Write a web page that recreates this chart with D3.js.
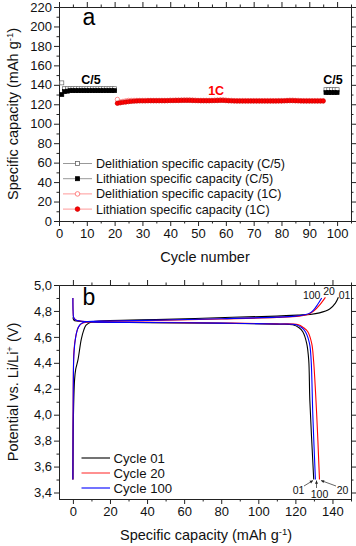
<!DOCTYPE html>
<html><head><meta charset="utf-8">
<script src="https://cdn.jsdelivr.net/npm/d3@7/dist/d3.min.js"></script>
<style>body{margin:0;background:#fff}svg{display:block;font-family:"Liberation Sans",Arial,sans-serif}</style>
</head><body><svg id="c" width="356" height="546"></svg>
<script>
// ---------- Panel a data ----------
const cyclesC5a = [1,2,3,4,5,6,7,8,9,10,11,12,13,14,15,16,17,18,19,20];
const delithC5a = [142,136,136,136,136,136,136,136,136,136,136,136,136,136,136,136,136,136,136,136];
const lithC5a   = [130,133,133.5,134,134,134,134,134,134,134,134,134,134,134,134,134,134,134,134,134];
const cycles1C = [21,22,23,24,25,26,27,28,29,30,31,32,33,34,35,36,37,38,39,40,41,42,43,44,45,46,47,48,49,50,51,52,53,54,55,56,57,58,59,60,61,62,63,64,65,66,67,68,69,70,71,72,73,74,75,76,77,78,79,80,81,82,83,84,85,86,87,88,89,90,91,92,93,94,95];
const delith1C = [125,122.5,123,123.5,124,124,124,124,124,124,124,124,124,124,124,124,124,124,124,124.2,124.2,124.3,124.3,124.3,124.5,124.5,124.5,124.3,124.2,124,124,124,124,124,124,124.2,124.3,124.5,124.5,124.3,124,124,123.8,123.8,123.8,123.8,123.8,123.8,123.8,123.8,123.8,123.8,123.8,123.8,123.8,123.8,123.8,123.8,123.8,123.8,123.8,124,124.2,124.2,124,124,123.8,123.8,123.8,123.8,123.8,123.8,123.8,123.8,123.8];
const lith1C   = [121,121.5,122,122.3,122.7,123,123.2,123.4,123.5,123.5,123.5,123.6,123.6,123.6,123.6,123.6,123.6,123.6,123.7,123.8,123.8,123.9,123.9,124,124,124,124,123.9,123.8,123.7,123.6,123.6,123.6,123.6,123.7,123.8,123.9,124,124,123.8,123.6,123.5,123.4,123.3,123.3,123.3,123.3,123.3,123.3,123.3,123.3,123.3,123.3,123.3,123.3,123.3,123.3,123.3,123.4,123.4,123.5,123.6,123.7,123.7,123.6,123.5,123.4,123.3,123.3,123.3,123.3,123.3,123.3,123.3,123.3];
const cyclesC5b = [96,97,98,99,100];
const delithC5b = [135,135,135,135,135];
const lithC5b   = [132,132,132,132,132];
const legendA = ["Delithiation specific capacity (C/5)","Lithiation specific capacity (C/5)","Delithiation specific capacity (1C)","Lithiation specific capacity (1C)"];

// ---------- Panel b data (capacity mAh/g, potential V) ----------
const chg01 = [[0,3.5],[0.3,4.0],[0.9,4.27],[1.5,4.35],[2.7,4.42],[4.5,4.58],[5.8,4.65],[7.1,4.69],[10,4.715],[20,4.725],[50,4.735],[86,4.751],[110,4.76],[122,4.768],[128,4.773],[133,4.785],[138.5,4.815],[141.6,4.86],[143.2,4.905]];
const dis01 = [[0,4.75],[0.5,4.73],[2,4.722],[10,4.715],[40,4.71],[80,4.705],[110,4.698],[118.6,4.693],[122,4.67],[124,4.64],[126.1,4.55],[127.2,4.42],[127.8,4.11],[129.9,3.5]];
const chg20 = [[0,3.5],[0.2,4.25],[0.6,4.5],[1.5,4.6],[2.8,4.67],[4.5,4.7],[8,4.715],[20,4.72],[50,4.728],[80,4.738],[110,4.75],[122,4.76],[127,4.775],[130,4.8],[133,4.845],[136.2,4.905]];
const dis20 = [[0,4.9],[0.1,4.8],[0.4,4.75],[1.5,4.73],[4,4.722],[10,4.717],[40,4.712],[80,4.707],[110,4.7],[121.3,4.695],[124.5,4.67],[126.7,4.64],[128.8,4.55],[129.8,4.42],[131.5,4.0],[133,3.5]];
const chg100 = [[0,3.5],[0.2,4.2],[0.5,4.45],[1.3,4.58],[2.3,4.65],[3.6,4.69],[5.5,4.71],[8,4.718],[20,4.722],[50,4.73],[80,4.74],[110,4.752],[120,4.76],[125,4.77],[128,4.785],[130,4.81],[132,4.85],[134.2,4.9]];
const dis100 = [[0,4.9],[0.1,4.8],[0.4,4.75],[1.5,4.73],[4,4.722],[10,4.716],[40,4.711],[80,4.706],[110,4.699],[120.4,4.694],[123.5,4.67],[125.4,4.64],[127.6,4.55],[128.5,4.42],[129.4,4.0],[130.8,3.5]];
const legendB = ["Cycle 01","Cycle 20","Cycle 100"];
const colorsB = ["#000000","#ff0000","#0000ff"];

const svg = d3.select("#c");
const FS = 13;

function frame(g, x, y, xTicks, xMinor, yTicks, yMinor, xFmt, yFmt){
  const [x0,x1]=x.range(), [y0,y1]=y.range();
  const ax = (gen, tr, ticks, size, fmt) => {
    const a = g.append("g").attr("transform",tr).call(gen.tickValues(ticks).tickSize(size).tickSizeOuter(0).tickFormat(fmt||""));
    a.select(".domain").attr("stroke","#222");
    a.selectAll(".tick line").attr("stroke","#222");
    a.selectAll("text").attr("font-size",FS).attr("fill","#111");
    return a;
  };
  ax(d3.axisBottom(x), `translate(0,${y0})`, xMinor, 2.5);
  ax(d3.axisTop(x), `translate(0,${y1})`, xMinor, 2.5);
  ax(d3.axisLeft(y), `translate(${x0},0)`, yMinor, 2.5);
  ax(d3.axisRight(y), `translate(${x1},0)`, yMinor, 2.5);
  const b = ax(d3.axisBottom(x), `translate(0,${y0})`, xTicks, 5, xFmt);
  b.selectAll("text").attr("dy","0.71em").attr("y",7.5);
  ax(d3.axisTop(x), `translate(0,${y1})`, xTicks, 5);
  const l = ax(d3.axisLeft(y), `translate(${x0},0)`, yTicks, 5, yFmt);
  l.selectAll("text").attr("x",-7);
  ax(d3.axisRight(y), `translate(${x1},0)`, yTicks, 5);
}

// ---------- Panel a ----------
const xa = d3.scaleLinear().domain([0,105]).range([59,351]);
const ya = d3.scaleLinear().domain([0,220]).range([221,7]);
const ga = svg.append("g");
frame(ga, xa, ya, d3.range(0,101,10), d3.range(5,106,10), d3.range(0,221,20), d3.range(10,221,20), d3.format("d"), d3.format("d"));

const sq = 4;
function squares(cx, vals, fill, stroke){
  ga.append("g").selectAll("rect").data(cx).join("rect")
    .attr("x",(d)=>xa(d)-sq/2).attr("y",(d,i)=>ya(vals[i])-sq/2)
    .attr("width",sq).attr("height",sq)
    .attr("fill",fill).attr("stroke",stroke).attr("stroke-width",0.7);
}
function circles(cx, vals, fill, stroke){
  ga.append("g").selectAll("circle").data(cx).join("circle")
    .attr("cx",d=>xa(d)).attr("cy",(d,i)=>ya(vals[i])).attr("r",2.2)
    .attr("fill",fill).attr("stroke",stroke).attr("stroke-width",0.7);
}
squares(cyclesC5a, delithC5a, "#fff", "#666");
squares(cyclesC5b, delithC5b, "#fff", "#666");
circles(cycles1C, delith1C, "#fff", "#f66");
squares(cyclesC5a, lithC5a, "#000", "#000");
squares(cyclesC5b, lithC5b, "#000", "#000");
circles(cycles1C, lith1C, "#f00", "#c00");

ga.append("text").attr("x",89).attr("y",25).attr("text-anchor","middle").attr("font-size",23).text("a");
ga.append("text").attr("x",xa(11.5)).attr("y",83.5).attr("text-anchor","middle").attr("font-size",12.5).attr("font-weight","bold").text("C/5");
ga.append("text").attr("x",xa(98.5)).attr("y",83.5).attr("text-anchor","middle").attr("font-size",12.5).attr("font-weight","bold").text("C/5");
ga.append("text").attr("x",xa(56.5)).attr("y",94.5).attr("text-anchor","middle").attr("font-size",12.5).attr("font-weight","bold").attr("fill","#f00").text("1C");

// legend a
const legA = ga.append("g");
const legStyles = [
  {line:"#999", shape:"sq", fill:"#fff", stroke:"#666"},
  {line:"#999", shape:"sq", fill:"#000", stroke:"#000"},
  {line:"#f99", shape:"ci", fill:"#fff", stroke:"#f66"},
  {line:"#f99", shape:"ci", fill:"#f00", stroke:"#c00"}];
legendA.forEach((t,i)=>{
  const yy = 163.5 + i*15.2, s = legStyles[i];
  legA.append("line").attr("x1",63).attr("x2",92).attr("y1",yy).attr("y2",yy).attr("stroke",s.line).attr("stroke-width",1);
  if(s.shape==="sq") legA.append("rect").attr("x",77.5-2).attr("y",yy-2).attr("width",4).attr("height",4).attr("fill",s.fill).attr("stroke",s.stroke).attr("stroke-width",0.8);
  else legA.append("circle").attr("cx",77.5).attr("cy",yy).attr("r",2.3).attr("fill",s.fill).attr("stroke",s.stroke).attr("stroke-width",0.8);
  legA.append("text").attr("x",96).attr("y",yy).attr("dy","0.36em").attr("font-size",12.6).attr("fill","#111").text(t);
});

ga.append("text").attr("x",205).attr("y",262).attr("text-anchor","middle").attr("font-size",14.5).attr("fill","#111").text("Cycle number");
const yta = ga.append("text").attr("transform","translate(18,114) rotate(-90)").attr("text-anchor","middle").attr("font-size",14.5).attr("fill","#111");
yta.append("tspan").text("Specific capacity (mAh g");
yta.append("tspan").attr("font-size",9.5).attr("dy",-5.5).text("-1");
yta.append("tspan").attr("dy",5.5).text(")");

// ---------- Panel b ----------
const xb = d3.scaleLinear().domain([-7.5,150]).range([59,351]);
const yb = d3.scaleLinear().domain([3.35,5.0]).range([499,285]);
const gb = svg.append("g");
const commaFmt = d=>d3.format(".1f")(d).replace(".",",");
frame(gb, xb, yb, d3.range(0,141,20), d3.range(10,151,20), d3.range(3.4,5.01,0.2).map(v=>+v.toFixed(1)), d3.range(3.5,5.0,0.2).map(v=>+v.toFixed(1)), d3.format("d"), commaFmt);

svg.append("clipPath").attr("id","cb").append("rect").attr("x",59).attr("y",285).attr("width",292).attr("height",214);
const lineX = d3.line().x(d=>xb(d[0])).y(d=>yb(d[1])).curve(d3.curveCatmullRom.alpha(0.5));
const curves = [[chg01,dis01],[chg20,dis20],[chg100,dis100]];
const gl = gb.append("g").attr("clip-path","url(#cb)");
curves.forEach((c,i)=>{
  c.forEach(d=>gl.append("path").attr("d",lineX(d)).attr("fill","none").attr("stroke",colorsB[i]).attr("stroke-width",1.1));
});

gb.append("text").attr("x",89).attr("y",305).attr("text-anchor","middle").attr("font-size",23).text("b");

// curve labels
const lbl = (x,y,t)=>gb.append("text").attr("x",x).attr("y",y).attr("text-anchor","middle").attr("font-size",10.5).attr("fill","#111").text(t);
lbl(311.7,298.5,"100"); lbl(329,295,"20"); lbl(344.5,298.5,"01");
lbl(298.5,493.5,"01"); lbl(319.5,497.5,"100"); lbl(342.5,493.5,"20");
const arr = (x1,y1,x2,y2)=>{
  gb.append("line").attr("x1",x1).attr("y1",y1).attr("x2",x2).attr("y2",y2).attr("stroke","#222").attr("stroke-width",0.7);
  const a = Math.atan2(y2-y1,x2-x1), L=3.5;
  gb.append("path").attr("d",`M${x2},${y2}L${x2-L*Math.cos(a-0.45)},${y2-L*Math.sin(a-0.45)}L${x2-L*Math.cos(a+0.45)},${y2-L*Math.sin(a+0.45)}Z`).attr("fill","#222");
};
arr(304,486,313,480.5); arr(316.5,488,316.5,480.5); arr(336,486,321,480.5);

// legend b
legendB.forEach((t,i)=>{
  const yy = 458 + i*15;
  gb.append("line").attr("x1",81.5).attr("x2",110).attr("y1",yy).attr("y2",yy).attr("stroke",colorsB[i]).attr("stroke-width",i===1?1.6:1.1).attr("stroke-opacity",i===1?0.55:1);
  gb.append("text").attr("x",113.5).attr("y",yy).attr("dy","0.36em").attr("font-size",13.2).attr("fill","#111").text(t);
});

gb.append("text").attr("x",206).attr("y",540).attr("text-anchor","middle").attr("font-size",14.5).attr("fill","#111")
  .call(t=>{t.append("tspan").text("Specific capacity (mAh g");t.append("tspan").attr("font-size",9.5).attr("dy",-5.5).text("-1");t.append("tspan").attr("dy",5.5).text(")");});
const ytb = gb.append("text").attr("transform","translate(18,392) rotate(-90)").attr("text-anchor","middle").attr("font-size",14.5).attr("fill","#111");
ytb.append("tspan").text("Potential vs. Li/Li");
ytb.append("tspan").attr("font-size",9.5).attr("dy",-5.5).text("+");
ytb.append("tspan").attr("dy",5.5).text(" (V)");
</script></body></html>
